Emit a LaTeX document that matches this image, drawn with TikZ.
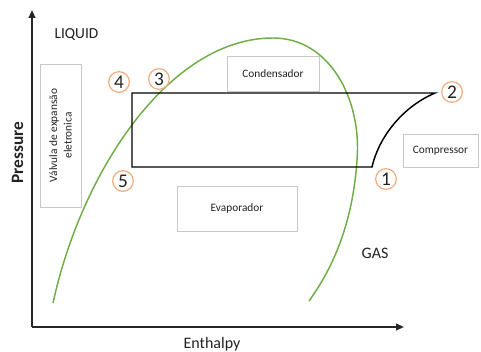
\documentclass[tikz,border=0pt]{standalone}
\usepackage{fontspec}
\setmainfont{Carlito}
\usetikzlibrary{arrows.meta}
\definecolor{cgreen}{RGB}{112,173,71}
\definecolor{corange}{RGB}{240,172,125}
\definecolor{cbox}{RGB}{200,200,200}
\definecolor{ctext}{RGB}{35,35,35}
\begin{document}
\begin{tikzpicture}[x=0.75pt,y=-0.75pt,
  lbl/.style={font=\fontsize{8.5}{11}\selectfont, text=ctext, align=center},
  infobox/.style={draw=cbox, line width=0.6pt, fill=white, inner sep=0pt},
  num/.style={circle, draw=corange, line width=0.9pt, minimum size=15.5pt, inner sep=0pt, font=\fontsize{14.5}{14.5}\selectfont, text=ctext},
  axis/.style={line width=1.4pt, draw=black!85, -{Triangle[length=6pt,width=5pt]}},
  cyc/.style={line width=1.1pt, draw=black},
  dome/.style={line width=1.1pt, draw=cgreen},
  big/.style={text=ctext, inner sep=0pt}]
\useasboundingbox (0,0) rectangle (481,352);
\fill[white] (0,0) rectangle (481,352);

% info boxes
\node[infobox, lbl, minimum width=69pt, minimum height=26.25pt] (cond) at (273,73.5) {Condensador};
\node[infobox, lbl, minimum width=56.25pt, minimum height=24.75pt] (comp) at (440.5,150.5) {Compressor};
\node[infobox, lbl, minimum width=90pt, minimum height=33.75pt] (evap) at (237,208.5) {Evaporador};
\node[infobox, lbl, rotate=90, minimum width=107.25pt, minimum height=30.75pt] (valv) at (60.5,135.5) {Válvula de expansão\\eletronica};

% axes
\coordinate (origin) at (32,327);
\coordinate (ytip) at (32,10);
\coordinate (xtip) at (404,327);
\draw[axis] (origin) -- (ytip);
\draw[axis] (origin) -- (xtip);

% saturation dome
\coordinate (d0) at (53,303);
\coordinate (dtop) at (273,38);
\coordinate (dmid) at (357,160);
\coordinate (d1) at (309,301);
\draw[dome] (d0) .. controls (82,170) and (170,38) .. (dtop)
  .. controls (330,38) and (362,100) .. (dmid)
  .. controls (353,220) and (335,265) .. (d1);

% cycle
\coordinate (tl) at (132,93);
\coordinate (p2) at (435,93);
\coordinate (p1) at (372,167);
\coordinate (bl) at (132,167);
\draw[cyc] (tl) -- (p2) .. controls (400,108) and (378,140) .. (p1) -- (bl) -- cycle;

% numbered points
\node[num] (n4) at (119,82) {4};
\node[num] (n3) at (159,79) {3};
\node[num] (n2) at (452,92) {2};
\node[num] (n1) at (386,179) {1};
\node[num] (n5) at (123,181) {5};

% labels
\node[big, anchor=base, font=\fontsize{11.5}{12}\selectfont] (liq) at (76.5,39) {LIQUID};
\node[big, anchor=base, font=\fontsize{12}{12}\selectfont] (gas) at (375,259) {GAS};
\node[big, anchor=base, font=\fontsize{12}{12}\selectfont] (enth) at (212,348) {Enthalpy};
\node[big, anchor=base, rotate=90, font=\bfseries\fontsize{13}{13}\selectfont] (pres) at (23,152.5) {Pressure};
\end{tikzpicture}
\end{document}
